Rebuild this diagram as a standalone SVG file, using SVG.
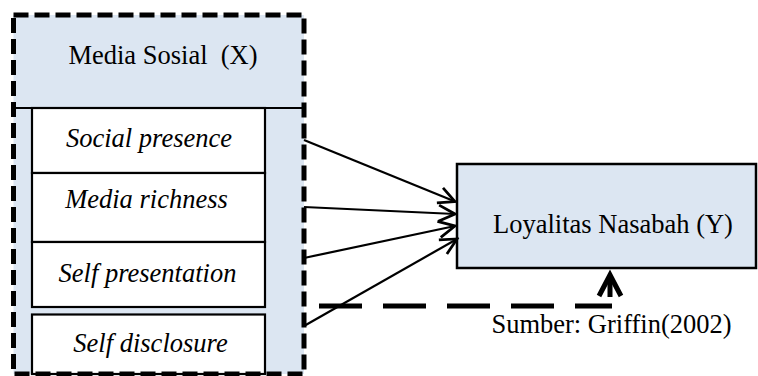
<svg xmlns="http://www.w3.org/2000/svg" width="758" height="376" viewBox="0 0 758 376">
<style>
  text { font-family: "Liberation Serif", "Times New Roman", serif; font-size: 26.5px; fill: #000; text-anchor: middle; white-space: pre; }
  .it { font-style: italic; }
  .box { fill: #fff; stroke: #000; stroke-width: 2.2; }
  .blue { fill: #DCE6F2; }
  .conn { stroke: #000; stroke-width: 2.2; fill: none; }
</style>
<defs>
  <marker id="arr" markerUnits="userSpaceOnUse" markerWidth="20" markerHeight="20" viewBox="-14 -8 16 16" refX="0" refY="0" orient="auto">
    <polyline points="-13,-6.5 0,0 -13,6.5" fill="none" stroke="#000" stroke-width="2.2"/>
  </marker>
</defs>
<rect width="758" height="376" fill="#fff"/>
<g id="media-sosial">
  <rect class="blue" x="13.5" y="15" width="290.5" height="359"/>
  <line x1="13" y1="108" x2="304" y2="108" stroke="#000" stroke-width="2.2"/>
  <text x="163" y="64">Media Sosial  (X)</text>
</g>
<g id="social-presence">
  <rect class="box" x="32" y="108" width="233" height="65"/>
  <text class="it" x="149" y="147">Social presence</text>
</g>
<g id="media-richness">
  <rect class="box" x="32" y="173" width="233" height="69"/>
  <text class="it" x="146.5" y="208">Media richness</text>
</g>
<g id="self-presentation">
  <rect class="box" x="32" y="242" width="233" height="65"/>
  <text class="it" x="147.5" y="282">Self presentation</text>
</g>
<g id="self-disclosure">
  <rect class="box" x="32" y="314.5" width="233" height="59.5"/>
  <text class="it" x="150.5" y="352">Self disclosure</text>
</g>
<rect x="13.5" y="15" width="290.5" height="359" fill="none" stroke="#000" stroke-width="5" stroke-dasharray="15 6"/>
<g id="loyalitas-nasabah">
  <rect class="blue" x="457" y="164" width="299" height="104" stroke="#000" stroke-width="2.5"/>
  <text x="613" y="233">Loyalitas Nasabah (Y)</text>
</g>
<g id="connectors">
  <line class="conn" x1="304" y1="140" x2="455" y2="201.5" marker-end="url(#arr)"/>
  <line class="conn" x1="304" y1="207" x2="455" y2="214" marker-end="url(#arr)"/>
  <line class="conn" x1="304" y1="258" x2="455" y2="226" marker-end="url(#arr)"/>
  <line class="conn" x1="304" y1="326" x2="457" y2="239" marker-end="url(#arr)"/>
  <line x1="319" y1="306" x2="612" y2="306" stroke="#000" stroke-width="5" stroke-dasharray="43 21"/>
  <line x1="610" y1="297" x2="610" y2="276" stroke="#000" stroke-width="5"/>
  <polyline points="599,296 610,275 621,296" fill="none" stroke="#000" stroke-width="5" stroke-linejoin="miter"/>
</g>
<g id="source">
  <text x="611.5" y="333">Sumber: Griffin(2002)</text>
</g>
</svg>
